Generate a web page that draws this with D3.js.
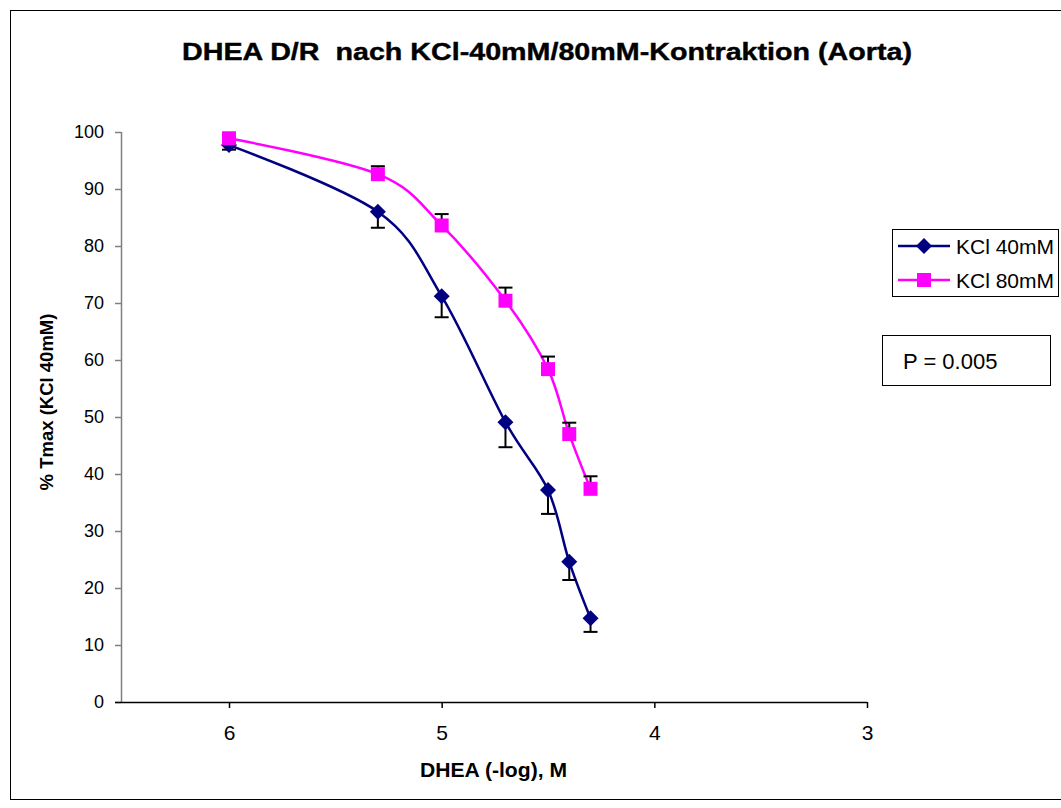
<!DOCTYPE html>
<html>
<head>
<meta charset="utf-8">
<script src="https://cdn.jsdelivr.net/npm/d3@7"></script>
<style>
  body { margin: 0; background: #fff; }
  text { font-family: "Liberation Sans", Arial, sans-serif; }
</style>
</head>
<body>
<svg id="chart"></svg>
<script>
// concentrations (-log M) and responses
var doses = [6, 5.3, 5, 4.7, 4.5, 4.4, 4.3]
var kcl40 = [97.7, 86.0, 71.2, 49.1, 37.2, 24.6, 14.7]
var kcl40Err = [0.8, 2.8, 3.7, 4.4, 4.2, 3.2, 2.4]
var kcl80 = [98.9, 92.6, 83.6, 70.4, 58.4, 47.0, 37.4]
var kcl80Err = [0.5, 1.4, 2.0, 2.3, 2.2, 2.0, 2.2]
var xTicks = [6, 5, 4, 3]
var yTicks = [0, 10, 20, 30, 40, 50, 60, 70, 80, 90, 100]
var seriesNames = ['KCl 40mM', 'KCl 80mM']

var width = 1061
var height = 808
var font = '"Liberation Sans", Arial, sans-serif'

var svg = d3.select('#chart').attr('width', width).attr('height', height)

// outer frame
svg.append('rect')
  .attr('x', 10.5).attr('y', 10.5)
  .attr('width', 1060).attr('height', 789)
  .attr('fill', 'none').attr('stroke', '#000').attr('stroke-width', 1)

var x = d3.scaleLinear().domain([6, 3]).range([229, 867])
var y = d3.scaleLinear().domain([0, 100]).range([702, 132])
var axisLeftX = 121

// y axis (gray, like Excel)
var yAxis = svg.append('g')
  .attr('transform', 'translate(' + axisLeftX + ',0)')
  .call(d3.axisLeft(y).tickValues(yTicks).tickSize(6).tickPadding(11))
yAxis.select('.domain').attr('stroke', '#808080').attr('stroke-width', 1.5)
  .attr('d', 'M0.5,' + y(0) + 'V' + y(100))
yAxis.selectAll('.tick line').attr('stroke', '#808080').attr('stroke-width', 1.5)
yAxis.selectAll('.tick text').attr('font-size', 18).attr('fill', '#000')
  .attr('font-family', font)

// x axis
var xAxis = svg.append('g')
  .attr('transform', 'translate(0,' + y(0) + ')')
  .call(d3.axisBottom(x).tickValues(xTicks).tickFormat(d3.format('d'))
    .tickSize(6).tickSizeOuter(0).tickPadding(17))
xAxis.select('.domain').attr('stroke', '#000').attr('stroke-width', 1.5)
  .attr('d', 'M' + (axisLeftX - 6) + ',0.5H' + x(3))
xAxis.selectAll('.tick line').attr('stroke', '#000').attr('stroke-width', 1.5)
xAxis.selectAll('.tick text').attr('font-size', 21).attr('fill', '#000')
  .attr('font-family', font)

// titles
svg.append('text')
  .attr('x', 182).attr('y', 60)
  .attr('font-size', 23.5).attr('font-weight', 'bold')
  .attr('textLength', 730).attr('lengthAdjust', 'spacingAndGlyphs')
  .attr('stroke', '#000').attr('stroke-width', 0.4)
  .style('white-space', 'pre')
  .text('DHEA D/R  nach KCl-40mM/80mM-Kontraktion (Aorta)')

svg.append('text')
  .attr('x', 420).attr('y', 777)
  .attr('font-size', 19.5).attr('font-weight', 'bold')
  .attr('textLength', 147).attr('lengthAdjust', 'spacingAndGlyphs')
  .text('DHEA (-log), M')

svg.append('text')
  .attr('transform', 'translate(53,402) rotate(-90)')
  .attr('text-anchor', 'middle')
  .attr('font-size', 18.5).attr('font-weight', 'bold')
  .text('% Tmax (KCl 40mM)')

var series = [
  { name: seriesNames[0], values: kcl40, err: kcl40Err, dir: 1, color: '#000080', rot: 45, size: 128 },
  { name: seriesNames[1], values: kcl80, err: kcl80Err, dir: -1, color: '#FF00FF', rot: 0, size: 196 }
]

var line = d3.line()
  .x(function (d) { return x(d[0]) })
  .y(function (d) { return y(d[1]) })
  .curve(d3.curveCatmullRom.alpha(0))

for (var s of series) {
  var pts = doses.map(function (d, i) { return [d, s.values[i], s.err[i]] })

  svg.append('path')
    .datum(pts)
    .attr('d', line)
    .attr('fill', 'none')
    .attr('stroke', s.color)
    .attr('stroke-width', 2.5)

  // one-sided error bars: 40mM goes down, 80mM goes up
  var eb = svg.append('g')
  var dir = s.dir
  eb.selectAll('line.v').data(pts).enter().append('line')
    .attr('x1', function (d) { return x(d[0]) })
    .attr('x2', function (d) { return x(d[0]) })
    .attr('y1', function (d) { return y(d[1]) })
    .attr('y2', function (d) { return y(d[1] - dir * d[2]) })
    .attr('stroke', '#000').attr('stroke-width', 2)
  eb.selectAll('line.c').data(pts).enter().append('line')
    .attr('x1', function (d) { return x(d[0]) - 7 })
    .attr('x2', function (d) { return x(d[0]) + 7 })
    .attr('y1', function (d) { return y(d[1] - dir * d[2]) })
    .attr('y2', function (d) { return y(d[1] - dir * d[2]) })
    .attr('stroke', '#000').attr('stroke-width', 2)

  var rot = s.rot
  svg.append('g').selectAll('path').data(pts).enter().append('path')
    .attr('transform', function (d) { return 'translate(' + x(d[0]) + ',' + y(d[1]) + ') rotate(' + rot + ')' })
    .attr('d', d3.symbol().type(d3.symbolSquare).size(s.size))
    .attr('fill', s.color)
}

// legend
var legend = svg.append('g')
legend.append('rect')
  .attr('x', 892.5).attr('y', 229.5).attr('width', 166).attr('height', 67)
  .attr('fill', '#fff').attr('stroke', '#000').attr('stroke-width', 1)
series.forEach(function (s, i) {
  var ly = 246 + i * 34
  legend.append('line')
    .attr('x1', 898).attr('x2', 950).attr('y1', ly).attr('y2', ly)
    .attr('stroke', s.color).attr('stroke-width', 2.5)
  legend.append('path')
    .attr('transform', 'translate(924,' + ly + ') rotate(' + s.rot + ')')
    .attr('d', d3.symbol().type(d3.symbolSquare).size(s.size))
    .attr('fill', s.color)
  legend.append('text')
    .attr('x', 956).attr('y', ly + 8)
    .attr('font-size', 21)
    .text(s.name)
})

// p value box
svg.append('rect')
  .attr('x', 882.5).attr('y', 335.5).attr('width', 168).attr('height', 50)
  .attr('fill', '#fff').attr('stroke', '#000').attr('stroke-width', 1)
svg.append('text')
  .attr('x', 903).attr('y', 369)
  .attr('font-size', 22)
  .text('P = 0.005')
</script>
</body>
</html>
